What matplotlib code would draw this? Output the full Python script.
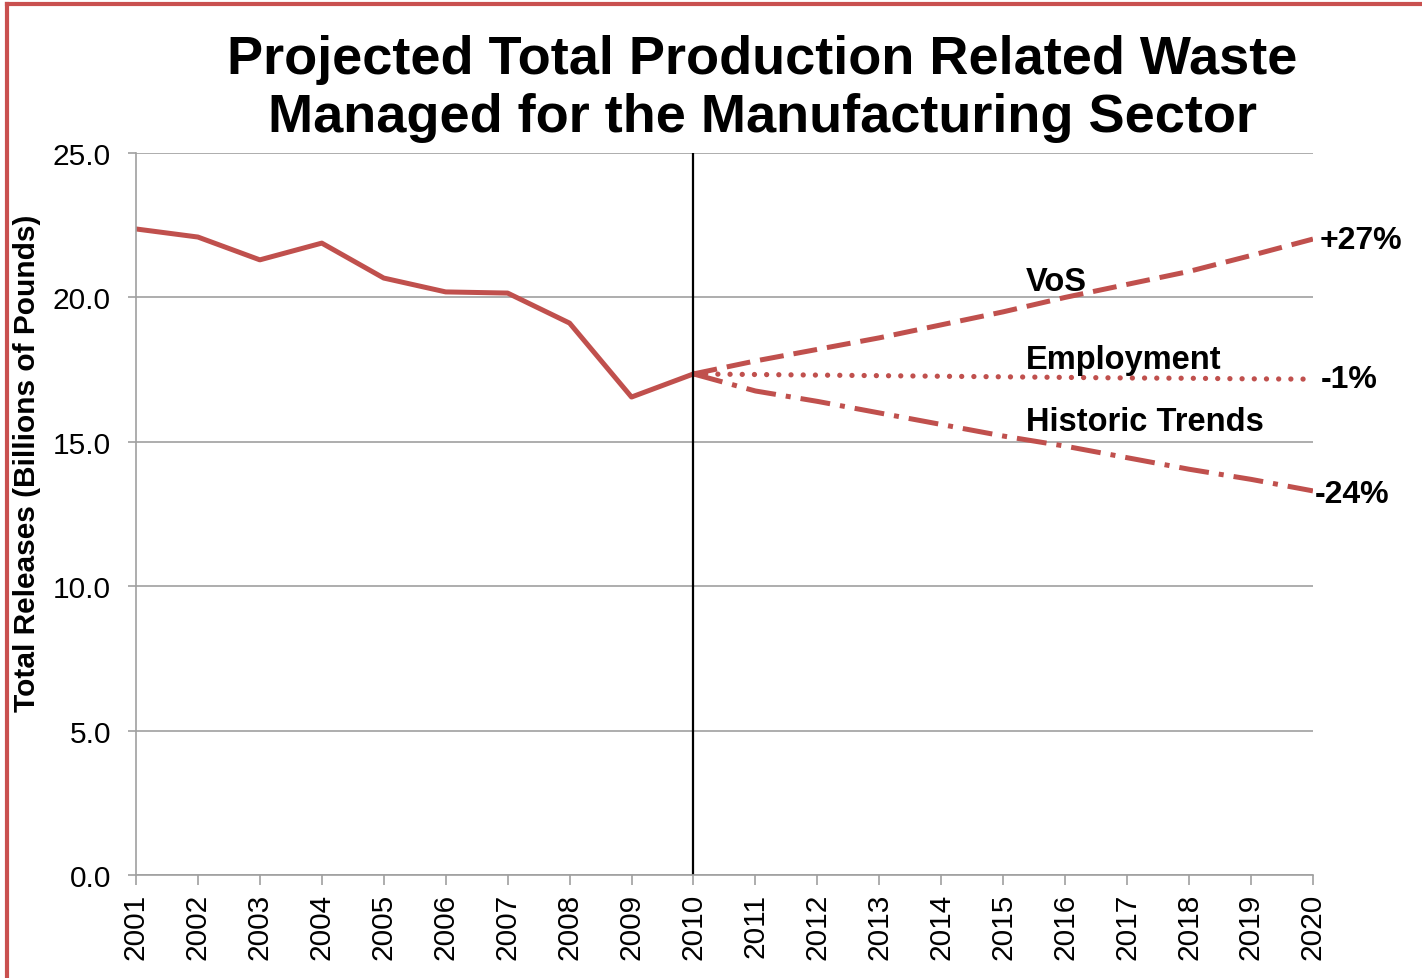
import matplotlib.pyplot as plt
from matplotlib.lines import Line2D

plt.rcParams['font.family'] = ['Liberation Sans', 'DejaVu Sans']

red = "#C0504D"

hist_years = [2001, 2002, 2003, 2004, 2005, 2006, 2007, 2008, 2009, 2010]
hist_vals = [22.37, 22.09, 21.30, 21.88, 20.67, 20.19, 20.15, 19.11, 16.55, 17.35]

proj_years = [2010, 2011, 2012, 2013, 2014, 2015, 2016, 2017, 2018, 2019, 2020]
vos = [17.35, 17.80, 18.20, 18.60, 19.05, 19.50, 20.00, 20.45, 20.90, 21.45, 22.02]
employment = [17.35, 17.33, 17.31, 17.29, 17.27, 17.25, 17.23, 17.21, 17.20, 17.18, 17.17]
historic = [17.35, 16.76, 16.40, 16.00, 15.60, 15.20, 14.85, 14.45, 14.05, 13.70, 13.30]

fig = plt.figure(figsize=(14.22, 9.79), dpi=100)
ax = fig.add_axes([0.0956, 0.1052, 0.8277, 0.7375])

ax.plot(hist_years, hist_vals, color=red, lw=3.6)
ax.plot(proj_years, vos, color=red, lw=3.6, linestyle=(0, (4.8, 2.0)))
ax.plot(proj_years, employment, color=red, lw=3.8, linestyle=(0, (0.01, 2.3)),
        dash_capstyle="round")
ax.plot(proj_years, historic, color=red, lw=3.6, linestyle=(0, (6.0, 2.0, 1.0, 2.0)))

ax.axvline(2010, color="black", lw=1.6)

ax.set_xlim(2001, 2020)
ax.set_ylim(0, 25)
ax.set_xticks(range(2001, 2021))
ax.set_xticklabels([str(y) for y in range(2001, 2021)], rotation=90, fontsize=21.5)
ax.set_yticks([0, 5, 10, 15, 20, 25])
ax.set_yticklabels(["%.1f" % v for v in [0, 5, 10, 15, 20, 25]], fontsize=21.5)
ax.grid(axis="y", color="#A0A0A0", lw=1.2)
ax.set_axisbelow(True)
for s in ["top", "right"]:
    ax.spines[s].set_visible(False)
for s in ["left", "bottom"]:
    ax.spines[s].set_color("#A0A0A0")
    ax.spines[s].set_linewidth(1.2)
ax.tick_params(axis="x", length=7, color="#A0A0A0", width=1.2, pad=6)
ax.tick_params(axis="y", length=6, color="#A0A0A0", width=1.2, pad=12)
ax.set_ylabel("Total Releases (Billions of Pounds)", fontsize=21.5, fontweight="bold")
ax.yaxis.set_label_coords(-0.081, 0.572)

ax.text(2015.37, 20.55, "VoS", fontsize=23.5, fontweight="bold", va="center")
ax.text(2015.37, 17.85, "Employment", fontsize=23.5, fontweight="bold", va="center")
ax.text(2015.37, 15.7, "Historic Trends", fontsize=23.5, fontweight="bold", va="center")
ax.text(2020.1, 21.98, "+27%", fontsize=23, fontweight="bold", va="center")
ax.text(2020.13, 17.17, "-1%", fontsize=23, fontweight="bold", va="center")
ax.text(2020.03, 13.2, "-24%", fontsize=23, fontweight="bold", va="center")

fig.text(0.536, 0.909, "Projected Total Production Related Waste\nManaged for the Manufacturing Sector",
         ha="center", va="center", fontsize=39, fontweight="bold", linespacing=1.22)

# red frame on the left and top edges
fig.add_artist(Line2D([7 / 1422, 7 / 1422], [0, 1 - 5 / 979], transform=fig.transFigure,
                      color="#C9504F", lw=3.0))
fig.add_artist(Line2D([7 / 1422, 1], [1 - 5 / 979, 1 - 5 / 979], transform=fig.transFigure,
                      color="#C9504F", lw=3.0))

fig.savefig("out.png", dpi=100)
